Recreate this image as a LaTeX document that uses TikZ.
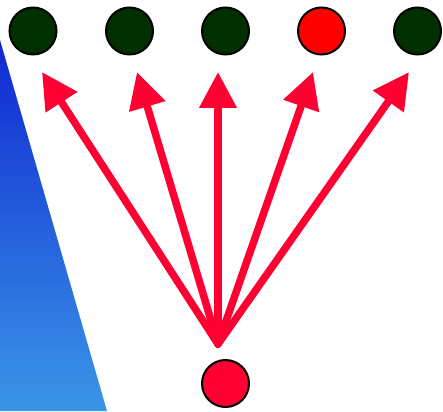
\documentclass[tikz,border=0pt]{standalone}
\usetikzlibrary{arrows.meta}
\definecolor{dkgreen}{RGB}{0,48,0}
\definecolor{brightred}{RGB}{255,0,0}
\definecolor{pinkred}{RGB}{255,0,51}
\definecolor{bluetop}{RGB}{16,40,210}
\definecolor{bluebot}{RGB}{58,150,230}
\begin{document}
\begin{tikzpicture}[x=1pt,y=-1pt,
  dot/.style={circle,draw=black,line width=2pt,minimum size=47pt,inner sep=0pt},
  arr/.style={draw=pinkred,line width=7.5pt,line cap=round,-{Triangle[length=36pt,width=36pt]}}]
\useasboundingbox (0,0) rectangle (443,411);
\shade[top color=bluetop,bottom color=bluebot] (0,40) -- (107,411) -- (0,411) -- cycle;
\node[dot,fill=dkgreen] (c1) at (33,31) {};
\node[dot,fill=dkgreen] (c2) at (129.5,31) {};
\node[dot,fill=dkgreen] (c3) at (225.5,31) {};
\node[dot,fill=brightred] (c4) at (321.5,31) {};
\node[dot,fill=dkgreen] (c5) at (417.5,31) {};
\node[dot,fill=pinkred] (b) at (225.5,383.5) {};
\coordinate (o) at (218,344);
\coordinate (t1) at (42,72);
\coordinate (t2) at (137,72);
\coordinate (t3) at (218,72);
\coordinate (t4) at (313,72);
\coordinate (t5) at (409,72);
\foreach \t in {t1,t2,t3,t4,t5} \draw[arr] (o) -- (\t);
\end{tikzpicture}
\end{document}
